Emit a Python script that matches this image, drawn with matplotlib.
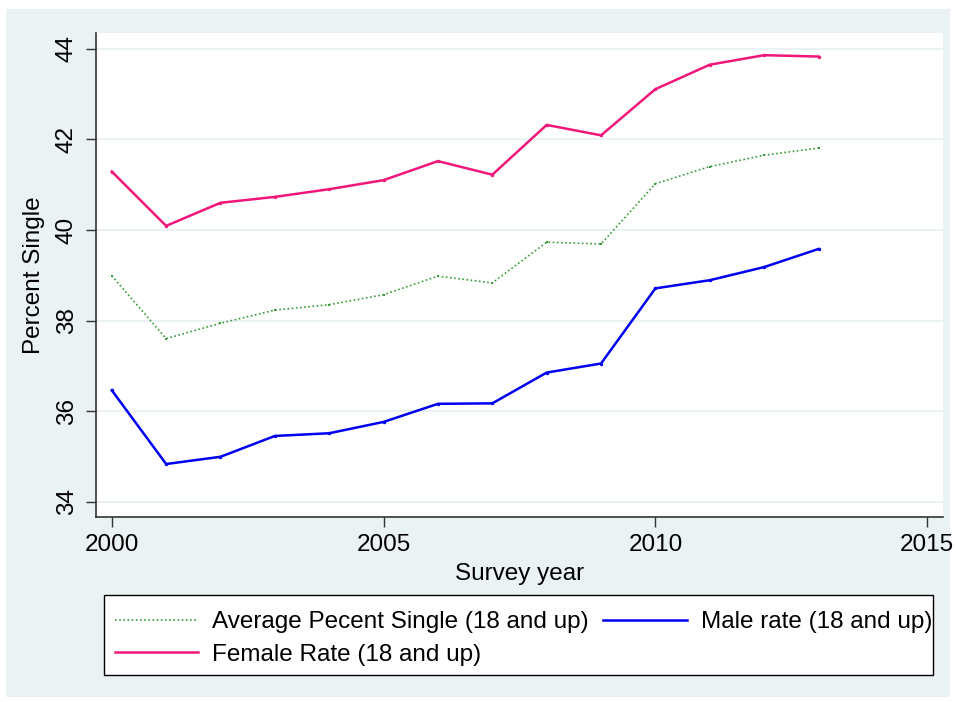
import matplotlib
matplotlib.use("Agg")
import matplotlib.pyplot as plt
from matplotlib.patches import Rectangle

years = [2000, 2001, 2002, 2003, 2004, 2005, 2006, 2007, 2008, 2009, 2010, 2011, 2012, 2013]
average = [38.99, 37.60, 37.94, 38.23, 38.35, 38.57, 38.98, 38.83, 39.73, 39.69, 41.02, 41.40, 41.65, 41.81]
male = [36.46, 34.83, 34.99, 35.45, 35.51, 35.76, 36.16, 36.17, 36.85, 37.05, 38.71, 38.89, 39.18, 39.58]
female = [41.29, 40.09, 40.60, 40.73, 40.90, 41.10, 41.52, 41.22, 42.32, 42.09, 43.11, 43.65, 43.86, 43.83]
x_ticks = [2000, 2005, 2010, 2015]
y_ticks = [34, 36, 38, 40, 42, 44]
labels = ["Average Pecent Single (18 and up)", "Male rate (18 and up)", "Female Rate (18 and up)"]

plt.rcParams['font.family'] = ['Liberation Sans', 'DejaVu Sans']

W, H = 956, 702
fig = plt.figure(figsize=(W / 100, H / 100), dpi=100)
fig.patch.set_facecolor('white')
bg = '#EAF2F3'
fig.patches.append(Rectangle((6 / W, 1 - 697 / H), (950 - 6) / W, (697 - 9) / H,
                             transform=fig.transFigure, facecolor=bg, edgecolor='none', zorder=0))
# legend frame
fig.patches.append(Rectangle((104 / W, 1 - 675 / H), (933 - 104) / W, (675 - 595) / H,
                             transform=fig.transFigure, facecolor='white', edgecolor='black',
                             lw=1.0, zorder=1))

ax = fig.add_axes([96 / W, 1 - 517 / H, (943 - 96) / W, (517 - 33) / H])
ax.set_facecolor('white')
ax.set_zorder(1)

c_avg = '#3A9A3A'
c_male = '#0000F0'
c_fem = '#F0177A'

l_avg, = ax.plot(years, average, color=c_avg, lw=1.2, ls=(0, (1, 1.5)),
                 marker='s', ms=2, markeredgewidth=0, label=labels[0])
l_male, = ax.plot(years, male, color=c_male, lw=1.8, marker='o', ms=2.5,
                  markeredgewidth=0, label=labels[1])
l_fem, = ax.plot(years, female, color=c_fem, lw=1.8, marker='o', ms=2.5,
                 markeredgewidth=0, label=labels[2])

ax.set_xlim(1999.71, 2015.29)
ax.set_ylim(33.66, 44.35)
ax.set_xticks(x_ticks)
ax.set_yticks(y_ticks)
ax.set_yticklabels([str(v) for v in y_ticks], rotation=90, va='center')
ax.grid(axis='y', color=bg, lw=1.5)
ax.set_axisbelow(True)
for s in ['top', 'right']:
    ax.spines[s].set_visible(False)
for s in ['left', 'bottom']:
    ax.spines[s].set_color('#333333')
    ax.spines[s].set_linewidth(1.2)
ax.tick_params(axis='both', direction='out', length=7, width=1.0, color='#333333',
               labelsize=17.5, colors='black')
ax.tick_params(axis='y', pad=6)
ax.tick_params(axis='x', pad=5)
ax.set_xlabel('Survey year', fontsize=17.5, labelpad=5)
ax.set_ylabel('Percent Single', fontsize=17.5, labelpad=8)

leg = fig.legend([l_avg, l_fem, l_male], [labels[0], labels[2], labels[1]],
                 ncol=2, loc='center left',
                 bbox_to_anchor=(114.5 / W, 1 - 638.5 / H),
                 fontsize=17.5, frameon=False,
                 handlelength=3.42, handletextpad=0.58, columnspacing=0.62,
                 labelspacing=0.45, borderpad=0, borderaxespad=0)
leg.set_zorder(5)
for h in leg.legend_handles:
    h.set_marker('')

fig.savefig('out.png', dpi=100, facecolor='white')
